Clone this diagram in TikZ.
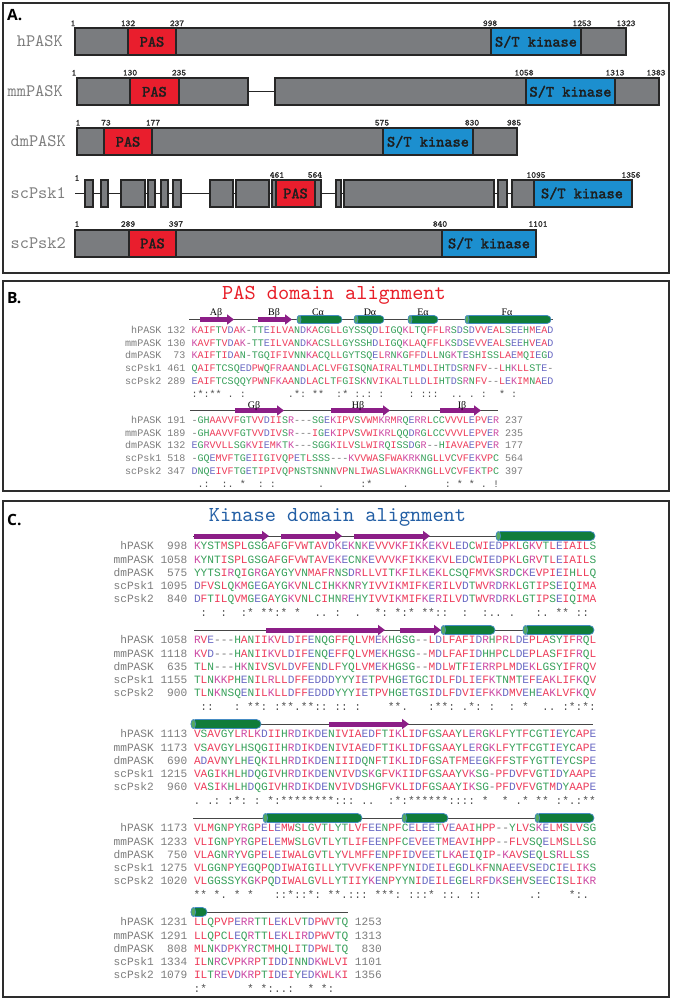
\documentclass[tikz,border=0pt]{standalone}
\usepackage{fontspec}
\setmainfont{Liberation Serif}
\newfontfamily\seqfont{Liberation Mono}
\newfontfamily\typefont{lmmono10-regular.otf}
\newfontfamily\domfont[FakeBold=2]{lmmono10-regular.otf}
\newfontfamily\tagfont{Open Sans}
\usetikzlibrary{arrows.meta}

\definecolor{panelline}{RGB}{45,45,45}
\definecolor{domgray}{RGB}{122,124,127}
\definecolor{domline}{RGB}{38,38,38}
\definecolor{pasred}{RGB}{233,30,45}
\definecolor{kinblue}{RGB}{28,143,207}
\definecolor{domtext}{RGB}{30,30,30}
\definecolor{numgray}{RGB}{50,50,50}
\definecolor{lblgray}{RGB}{125,125,125}
\definecolor{namegray}{RGB}{125,125,125}
\definecolor{resred}{RGB}{238,60,90}
\definecolor{resblue}{RGB}{105,105,195}
\definecolor{resmag}{RGB}{205,75,165}
\definecolor{resgreen}{RGB}{55,160,90}
\definecolor{gapgray}{RGB}{120,120,120}
\definecolor{consgray}{RGB}{80,80,80}
\definecolor{sslinecol}{RGB}{70,70,70}
\definecolor{strandcol}{RGB}{140,30,135}
\definecolor{helixgreen}{RGB}{16,124,58}
\definecolor{helixlight}{RGB}{85,170,95}
\definecolor{helixedge}{RGB}{70,140,195}
\definecolor{pastitle}{RGB}{232,30,40}
\definecolor{kintitle}{RGB}{35,95,165}

% residue colouring, one character at a time (_ = blank column)
\makeatletter
\def\seqres#1{\seqres@loop#1\relax}
\def\seqres@loop#1{\ifx#1\relax\else\seqres@chr#1\expandafter\seqres@loop\fi}
\def\seqres@chr#1{\ifx#1_\phantom{X}\else{\csname seqc@#1\endcsname#1}\fi}
\def\seqlbl#1{{\color{lblgray}\seqlbl@loop#1\relax}}
\def\seqlbl@loop#1{\ifx#1\relax\else\ifx#1_\phantom{X}\else#1\fi\expandafter\seqlbl@loop\fi}
\def\seqcolset#1#2{\@tfor\seq@x:=#2\do{\expandafter\def\csname seqc@\seq@x\endcsname{\color{#1}}}}
\makeatother
\seqcolset{resred}{AVFPMILW}
\seqcolset{resblue}{DE}
\seqcolset{resmag}{RK}
\seqcolset{resgreen}{STYHCNGQ}
\seqcolset{gapgray}{-}
\seqcolset{consgray}{*:.!}
\newcommand\alnrow[3]{\seqlbl{#1}\seqres{#2}\seqlbl{#3}}
\newcommand\helixbar[4]{%
  \draw[helix,rounded corners={#4/2*1pt}] (#1,#3-#4/2) rectangle (#2,#3+#4/2);
  \draw[helixcap] (#1+#4/4,#3) ellipse ({#4/4} and {#4/2});}

\tikzset{
  panel/.style={draw=panelline, line width=2.2pt},
  paneltag/.style={font=\tagfont\bfseries\fontsize{15.5}{16}\selectfont, anchor=base west, inner sep=0},
  dom/.style={draw=domline, line width=1.6pt, fill=domgray},
  pasdom/.style={dom, fill=pasred},
  kindom/.style={dom, fill=kinblue},
  link/.style={draw=domline, line width=1.3pt},
  domtxt/.style={font=\domfont\fontsize{15.6}{16}\selectfont, text=domtext, inner sep=0},
  resnum/.style={font=\domfont\fontsize{9}{9}\selectfont, text=numgray, inner sep=0},
  protname/.style={font=\typefont\fontsize{17.5}{18}\selectfont, text=namegray, anchor=base east, inner sep=0},
  title/.style={font=\typefont\fontsize{21.3}{22}\selectfont, anchor=base, inner sep=0},
  rowB/.style={font=\seqfont\fontsize{10.05}{10}\selectfont, anchor=base west, inner sep=0},
  rowC/.style={font=\seqfont\fontsize{11.17}{11}\selectfont, anchor=base west, inner sep=0},
  ssline/.style={draw=sslinecol, line width=1pt},
  strand/.style={draw=strandcol, line width=5pt, -{Triangle[length=7pt,width=10pt]}},
  helix/.style={fill=helixgreen, draw=helixedge, line width=0.7pt},
  helixcap/.style={fill=helixlight, draw=helixedge, line width=0.7pt},
  sslbl/.style={font=\fontsize{10}{10}\selectfont, anchor=base, inner sep=0},
}

\begin{document}
\begin{tikzpicture}[x=1pt,y=-1pt]
\useasboundingbox (0,0) rectangle (676,1000);
\fill[white] (0,0) rectangle (676,1000);

% ---- A. domain architecture
\draw[panel] (3,3) rectangle (669,273);
\node[paneltag] (tagA) at (7,21) {A.};

\node[protname] (nameh) at (63,47) {hPASK};
\draw[dom] (75,28.3) rectangle (128,55.3);
\draw[pasdom] (128,28.3) rectangle (176,55.3);
\draw[dom] (176,28.3) rectangle (491,55.3);
\draw[kindom] (491,28.3) rectangle (581,55.3);
\draw[dom] (581,28.3) rectangle (626,55.3);
\node[domtxt] (pash) at (152,41.8) {PAS};
\node[domtxt] (kinh) at (536,41.8) {S/T kinase};
\node[resnum] (h1) at (73,23.3) {1};
\node[resnum] (h132) at (128,23.3) {132};
\node[resnum] (h237) at (177,23.3) {237};
\node[resnum] (h998) at (490,23.3) {998};
\node[resnum] (h1253) at (582,23.3) {1253};
\node[resnum] (h1323) at (626,23.3) {1323};

\node[protname] (namemm) at (63,97) {mmPASK};
\draw[link] (248,91.8) -- (275,91.8);
\draw[dom] (77,78.3) rectangle (130,105.3);
\draw[pasdom] (130,78.3) rectangle (179,105.3);
\draw[dom] (179,78.3) rectangle (248,105.3);
\draw[dom] (275,78.3) rectangle (526,105.3);
\draw[kindom] (526,78.3) rectangle (615,105.3);
\draw[dom] (615,78.3) rectangle (659,105.3);
\node[domtxt] (pasmm) at (154.5,91.8) {PAS};
\node[domtxt] (kinmm) at (570.5,91.8) {S/T kinase};
\node[resnum] (mm1) at (74,72.7) {1};
\node[resnum] (mm130) at (130,72.7) {130};
\node[resnum] (mm235) at (179,72.7) {235};
\node[resnum] (mm1058) at (524,72.7) {1058};
\node[resnum] (mm1313) at (615,72.7) {1313};
\node[resnum] (mm1383) at (656,72.7) {1383};

\node[protname] (namedm) at (66,147) {dmPASK};
\draw[dom] (77,128.3) rectangle (104,155.3);
\draw[pasdom] (104,128.3) rectangle (152,155.3);
\draw[dom] (152,128.3) rectangle (383,155.3);
\draw[kindom] (383,128.3) rectangle (473,155.3);
\draw[dom] (473,128.3) rectangle (517,155.3);
\node[domtxt] (pasdm) at (128,141.8) {PAS};
\node[domtxt] (kindm) at (428,141.8) {S/T kinase};
\node[resnum] (dm1) at (78,122.7) {1};
\node[resnum] (dm73) at (106,122.7) {73};
\node[resnum] (dm177) at (153,122.7) {177};
\node[resnum] (dm575) at (382,122.7) {575};
\node[resnum] (dm830) at (472,122.7) {830};
\node[resnum] (dm985) at (514,122.7) {985};

\node[protname] (namesc1) at (66,198.7) {scPsk1};
\draw[link] (75,193.5) -- (632,193.5);
\draw[dom] (85,180) rectangle (93,207);
\draw[dom] (101,180) rectangle (108,207);
\draw[dom] (121,180) rectangle (145,207);
\draw[dom] (148,180) rectangle (155,207);
\draw[dom] (161,180) rectangle (168,207);
\draw[dom] (173,180) rectangle (181,207);
\draw[dom] (210,180) rectangle (233,207);
\draw[dom] (236,180) rectangle (269,207);
\draw[dom] (272,180) rectangle (276,207);
\draw[pasdom] (276,180) rectangle (315,207);
\draw[dom] (315,180) rectangle (321,207);
\draw[dom] (336,180) rectangle (341,207);
\draw[dom] (344,180) rectangle (494,207);
\draw[dom] (498,180) rectangle (507,207);
\draw[dom] (512,180) rectangle (534,207);
\draw[kindom] (534,180) rectangle (632,207);
\node[domtxt] (passc1) at (295.5,193.5) {PAS};
\node[domtxt] (kinsc1) at (582,193.5) {S/T kinase};
\node[resnum] (sc1n1) at (77,178) {1};
\node[resnum] (sc1n461) at (277,175) {461};
\node[resnum] (sc1n564) at (315,175) {564};
\node[resnum] (sc1n1095) at (536,175) {1095};
\node[resnum] (sc1n1356) at (631,175) {1356};

\node[protname] (namesc2) at (66,248.7) {scPsk2};
\draw[dom] (75,230) rectangle (129,257);
\draw[pasdom] (129,230) rectangle (176,257);
\draw[dom] (176,230) rectangle (442,257);
\draw[kindom] (442,230) rectangle (536,257);
\node[domtxt] (passc2) at (152.5,243.5) {PAS};
\node[domtxt] (kinsc2) at (489,243.5) {S/T kinase};
\node[resnum] (sc2n1) at (77,224) {1};
\node[resnum] (sc2n289) at (128,224) {289};
\node[resnum] (sc2n397) at (176,224) {397};
\node[resnum] (sc2n840) at (440,224) {840};
\node[resnum] (sc2n1101) at (538,224) {1101};

% ---- B. PAS domain alignment
\draw[panel] (3,281) rectangle (669,491);
\node[paneltag] (tagB) at (7,303) {B.};
\node[title, text=pastitle] (titleB) at (334,299.5) {PAS domain alignment};

\draw[ssline] (189,319.5) -- (553,319.5);
\draw[strand] (200,319.5) -- (234,319.5);
\draw[strand] (258,319.5) -- (292,319.5);
\helixbar{297}{342}{319.5}{8}
\helixbar{354}{384}{319.5}{8}
\helixbar{408}{438}{319.5}{8}
\helixbar{465}{551}{319.5}{8}
\node[sslbl] (ssA) at (216,315) {Aβ};
\node[sslbl] (ssB) at (274,315) {Bβ};
\node[sslbl] (ssC) at (318,315) {Cα};
\node[sslbl] (ssD) at (370,315) {Dα};
\node[sslbl] (ssE) at (423,315) {Eα};
\node[sslbl] (ssF) at (507,315) {Fα};

\node[rowB] (b1r1) at (125,333.4) {\alnrow{_hPASK_132_}{KAIFTVDAK-TTEILVANDKACGLLGYSSQDLIGQKLTQFFLRSDSDVVEALSEEHMEAD}{}};
\node[rowB] (b1r2) at (125,346.2) {\alnrow{mmPASK_130_}{KAVFTVDAK-TTEILVANDKACSLLGYSSHDLIGQKLAQFFLKSDSEVVEALSEEHVEAD}{}};
\node[rowB] (b1r3) at (125,358.9) {\alnrow{dmPASK__73_}{KAIFTIDAN-TGQIFIVNNKACQLLGYTSQELRNKGFFDLLNGKTESHISSLAEMQIEGD}{}};
\node[rowB] (b1r4) at (125,371.7) {\alnrow{scPsk1_461_}{QAIFTCSQEDPWQFRAANDLACLVFGISQNAIRALTLMDLIHTDSRNFV--LHKLLSTE-}{}};
\node[rowB] (b1r5) at (125,384.4) {\alnrow{scPsk2_289_}{EAIFTCSQQYPWNFKAANDLACLTFGISKNVIKALTLLDLIHTDSRNFV--LEKIMNAED}{}};
\node[rowB] (b1cons) at (191.3,397.2) {\seqres{:*:**_._:_______.*:_**__:*_:.:_:____:_:::__.._._:__*_:}};

\draw[ssline] (190,410.5) -- (498,410.5);
\draw[strand] (235,410.5) -- (284,410.5);
\draw[strand] (331,410.5) -- (390,410.5);
\draw[strand] (440,410.5) -- (481,410.5);
\node[sslbl] (ssG) at (254,408) {Gβ};
\node[sslbl] (ssH) at (358,408) {Hβ};
\node[sslbl] (ssI) at (462,408) {Iβ};

\node[rowB] (b2r1) at (125,423.1) {\alnrow{_hPASK_191_}{-GHAAVVFGTVVDIISR---SGEKIPVSVWMKRMRQERRLCCVVVLEPVER}{_237}};
\node[rowB] (b2r2) at (125,436) {\alnrow{mmPASK_189_}{-GHAAVVFGTVVDIVSR---IGEKIPVSVWIKRLQQDRGLCCVVVLEPVER}{_235}};
\node[rowB] (b2r3) at (125,448.8) {\alnrow{dmPASK_132_}{EGRVVLLSGKVIEMKTK---SGGKILVSLWIRQISSDGR--HIAVAEPVER}{_177}};
\node[rowB] (b2r4) at (125,461.7) {\alnrow{scPsk1_518_}{-GQEMVFTGEIIGIVQPETLSSS---KVVWASFWAKRKNGLLVCVFEKVPC}{_564}};
\node[rowB] (b2r5) at (125,474.5) {\alnrow{scPsk2_347_}{DNQEIVFTGETIPIVQPNSTSNNNVPNLIWASLWAKRKNGLLVCVFEKTPC}{_397}};
\node[rowB] (b2cons) at (191.3,487.4) {\seqres{_.:__:._*__:_:_______.______:*_____.______:_*_*_._!}};

% ---- C. kinase domain alignment
\draw[panel] (3,501) rectangle (669,997);
\node[paneltag] (tagC) at (7,525) {C.};
\node[title, text=kintitle] (titleC) at (337.5,521) {Kinase domain alignment};

\draw[ssline] (193,536) -- (595,536);
\draw[strand] (194,536) -- (269,536);
\draw[strand] (281,536) -- (342,536);
\draw[strand] (354,536) -- (430,536);
\helixbar{496}{595}{536}{9}
\node[rowC] (c1r1) at (113.4,549.7) {\alnrow{_hPASK__998_}{KYSTMSPLGSGAFGFVWTAVDKEKNKEVVVKFIKKEKVLEDCWIEDPKLGKVTLEIAILS}{}};
\node[rowC] (c1r2) at (113.4,563) {\alnrow{mmPASK_1058_}{KYNTISPLGSGAFGFVWTAVEKECNKEVVVKFIKKEKVLEDCWIEDPKLGRVTLEIAILS}{}};
\node[rowC] (c1r3) at (113.4,576.3) {\alnrow{dmPASK__575_}{YYTSIRQIGRGAYGYVNMAFRNSDRLLVITKFILKEKLCSQFMVKSRDCKEVPIEIHLLQ}{}};
\node[rowC] (c1r4) at (113.4,589.6) {\alnrow{scPsk1_1095_}{DFVSLQKMGEGAYGKVNLCIHKKNRYIVVIKMIFKERILVDTWVRDRKLGTIPSEIQIMA}{}};
\node[rowC] (c1r5) at (113.4,602.9) {\alnrow{scPsk2__840_}{DFTILQVMGEGAYGKVNLCIHNREHYIVVIKMIFKERILVDTWVRDRKLGTIPSEIQIMA}{}};
\node[rowC] (c1cons) at (193.4,616.2) {\seqres{_:__:__:*_**:*_*__.._:__.__*:_*:*_**::__:__:.._.___:._**_::}};

\draw[ssline] (194,630) -- (594,630);
\draw[strand] (266,630) -- (385,630);
\draw[strand] (400,630) -- (441,630);
\helixbar{441}{495}{630}{9}
\helixbar{523}{594}{630}{9}
\node[rowC] (c2r1) at (113.4,643.7) {\alnrow{_hPASK_1058_}{RVE---HANIIKVLDIFENQGFFQLVMEKHGSG--LDLFAFIDRHPRLDEPLASYIFRQL}{}};
\node[rowC] (c2r2) at (113.4,657) {\alnrow{mmPASK_1118_}{KVD---HANIIKVLDIFENQEFFQLVMEKHGSG--MDLFAFIDHHPCLDEPLASFIFRQL}{}};
\node[rowC] (c2r3) at (113.4,670.3) {\alnrow{dmPASK__635_}{TLN---HKNIVSVLDVFENDLFYQLVMEKHGSG--MDLWTFIERRPLMDEKLGSYIFRQV}{}};
\node[rowC] (c2r4) at (113.4,683.6) {\alnrow{scPsk1_1155_}{TLNKKPHENILRLLDFFEDDDYYYIETPVHGETGCIDLFDLIEFKTNMTEFEAKLIFKQV}{}};
\node[rowC] (c2r5) at (113.4,696.9) {\alnrow{scPsk2__900_}{TLNKNSQENILKLLDFFEDDDYYYIETPVHGETGSIDLFDVIEFKKDMVEHEAKLVFKQV}{}};
\node[rowC] (c2cons) at (193.4,710.2) {\seqres{_::___:_**:_:**.**::_::_:____**.___:**:_.*:_:__:_*__.._:*:*:}};

\draw[ssline] (191,724) -- (593,724);
\helixbar{191}{261}{724}{9}
\draw[strand] (329,724) -- (409,724);
\node[rowC] (c3r1) at (113.4,737.7) {\alnrow{_hPASK_1113_}{VSAVGYLRLKDIIHRDIKDENIVIAEDFTIKLIDFGSAAYLERGKLFYTFCGTIEYCAPE}{}};
\node[rowC] (c3r2) at (113.4,751) {\alnrow{mmPASK_1173_}{VSAVGYLHSQGIIHRDIKDENIVIAEDFTIKLIDFGSAAYLERGKLFYTFCGTIEYCAPE}{}};
\node[rowC] (c3r3) at (113.4,764.3) {\alnrow{dmPASK__690_}{ADAVNYLHEQKILHRDIKDENIIIDQNFTIKLIDFGSATFMEEGKFFSTFYGTTEYCSPE}{}};
\node[rowC] (c3r4) at (113.4,777.6) {\alnrow{scPsk1_1215_}{VAGIKHLHDQGIVHRDIKDENVIVDSKGFVKIIDFGSAAYVKSG-PFDVFVGTIDYAAPE}{}};
\node[rowC] (c3r5) at (113.4,790.9) {\alnrow{scPsk2__960_}{VASIKHLHDQGIVHRDIKDENVIVDSHGFVKLIDFGSAAYIKSG-PFDVFVGTMDYAAPE}{}};
\node[rowC] (c3cons) at (193.4,804.2) {\seqres{._.:_:*:_:_*:********:::_..__:*:******::::_*__*_.*_**_:*.:**}};

\draw[ssline] (193,818) -- (594,818);
\helixbar{263}{362}{818}{9}
\helixbar{402}{448}{818}{9}
\helixbar{535}{594}{818}{9}
\node[rowC] (c4r1) at (113.4,831.7) {\alnrow{_hPASK_1173_}{VLMGNPYRGPELEMWSLGVTLYTLVFEENPFCELEETVEAAIHPP--YLVSKELMSLVSG}{}};
\node[rowC] (c4r2) at (113.4,845) {\alnrow{mmPASK_1233_}{VLIGNPYRGPELEMWSLGVTLYTLIFEENPFCEVEETMEAVIHPP--FLVSQELMSLLSG}{}};
\node[rowC] (c4r3) at (113.4,858.3) {\alnrow{dmPASK__750_}{VLAGNRYVGPELEIWALGVTLYVLMFFENPFIDVEETLKAEIQIP-KAVSEQLSRLLSS}{}};
\node[rowC] (c4r4) at (113.4,871.6) {\alnrow{scPsk1_1275_}{VLGGNPYEGQPQDIWAIGILLYTVVFKENPFYNIDEILEGDLKFNNAEEVSEDCIELIKS}{}};
\node[rowC] (c4r5) at (113.4,884.9) {\alnrow{scPsk2_1020_}{VLGGSSYKGKPQDIWALGVLLYTIIYKENPYYNIDEILEGELRFDKSEHVSEECISLIKR}{}};
\node[rowC] (c4cons) at (193.4,898.2) {\seqres{**_*._*_*___::*::*:_**.:::_***:_:::*_::._::_______.:____*:.}};

\draw[ssline] (191,912) -- (348,912);
\helixbar{191}{207}{912}{9}
\node[rowC] (c5r1) at (113.4,925.7) {\alnrow{_hPASK_1231_}{LLQPVPERRTTLEKLVTDPWVTQ}{_1253}};
\node[rowC] (c5r2) at (113.4,939) {\alnrow{mmPASK_1291_}{LLQPCLEQRTTLEKLIRDPWVTQ}{_1313}};
\node[rowC] (c5r3) at (113.4,952.3) {\alnrow{dmPASK__808_}{MLNKDPKYRCTMHQLITDPWLTQ}{__830}};
\node[rowC] (c5r4) at (113.4,965.6) {\alnrow{scPsk1_1334_}{ILNRCVPKRPTIDDINNDKWLVI}{_1101}};
\node[rowC] (c5r5) at (113.4,978.9) {\alnrow{scPsk2_1079_}{ILTREVDKRPTIDEIYEDKWLKI}{_1356}};
\node[rowC] (c5cons) at (193.4,992.2) {\seqres{:*______*_*:..:__*_*:}};
\end{tikzpicture}
\end{document}
